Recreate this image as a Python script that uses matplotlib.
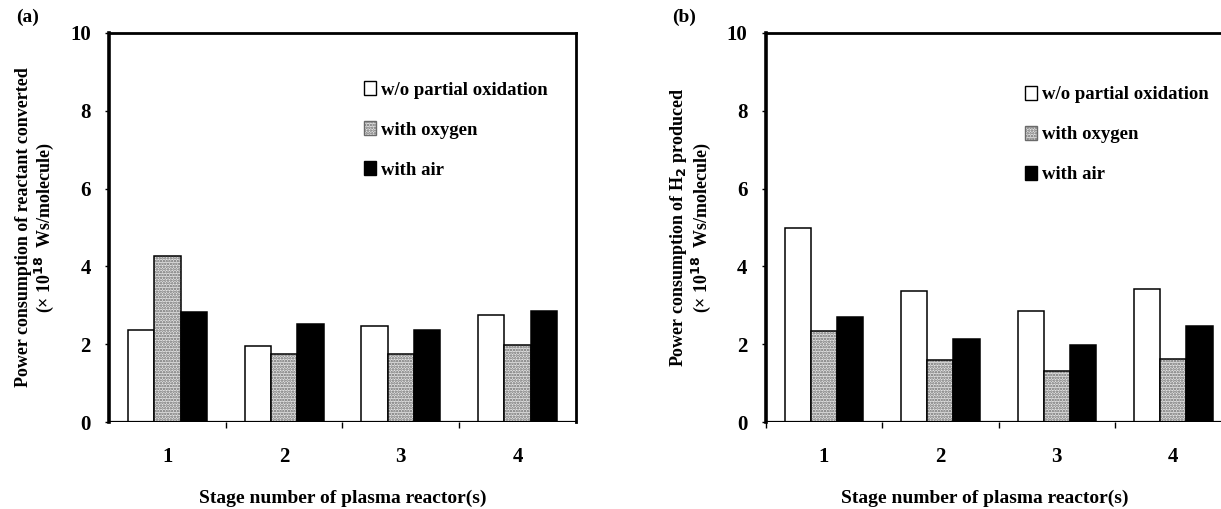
import numpy as np
import matplotlib
matplotlib.use("Agg")
import matplotlib.pyplot as plt
from matplotlib.patches import Patch

plt.rcParams.update({
    "font.family": ["Liberation Serif", "DejaVu Serif"],
    "font.weight": "bold",
    "axes.labelweight": "bold",
    "mathtext.default": "bf",
    "hatch.linewidth": 1.2,
})

stages = [1, 2, 3, 4]
series = ["w/o partial oxidation", "with oxygen", "with air"]

# (a) power consumption of reactant converted
conv_no_ox = [2.36, 1.96, 2.47, 2.74]
conv_oxygen = [4.26, 1.74, 1.76, 1.99]
conv_air = [2.83, 2.51, 2.36, 2.85]

# (b) power consumption of H2 produced
h2_no_ox = [4.98, 3.36, 2.85, 3.41]
h2_oxygen = [2.33, 1.60, 1.30, 1.63]
h2_air = [2.69, 2.13, 1.97, 2.46]

W = 0.225
HATCH_FACE = "#e4e4e4"
HATCH_COL = "#6a6a6a"


def draw_panel(ax, vals, ylabel, tag, legend_xy):
    x = np.array(stages, dtype=float)
    white, hatch, black = vals
    ax.bar(x - W, white, W, color="white", edgecolor="black", linewidth=1.1, zorder=2)
    ax.bar(x, hatch, W, color=HATCH_FACE, edgecolor=HATCH_COL, hatch="......",
           linewidth=0, zorder=2)
    ax.bar(x, hatch, W, color="none", edgecolor="black", linewidth=1.1, zorder=3)
    ax.bar(x + W, black, W, color="black", edgecolor="black", linewidth=1.1, zorder=2)
    ax.axhline(0, color="black", linewidth=1.6, zorder=4)

    ax.set_xlim(0.5, 4.5)
    ax.set_ylim(0, 10)
    ax.set_yticks([0, 2, 4, 6, 8, 10])
    ax.set_xticks(stages)
    ax.set_xticks([1.5, 2.5, 3.5], minor=True)
    ax.tick_params(axis="x", which="major", length=0, pad=18, labelsize=15)
    ax.tick_params(axis="x", which="minor", length=4, width=1, direction="out")
    ax.tick_params(axis="y", length=3, width=1, direction="out", pad=10, labelsize=15)
    ax.spines["left"].set_linewidth(2.6)
    for s in ["top", "right"]:
        ax.spines[s].set_linewidth(2.0)
    ax.spines["bottom"].set_visible(False)

    ax.set_ylabel(ylabel, fontsize=13, linespacing=1.05, labelpad=10)
    ax.set_xlabel("Stage number of plasma reactor(s)", fontsize=14, labelpad=16)
    ax.text(-0.2, 1.04, tag, transform=ax.transAxes, fontsize=14, ha="left",
            va="center", fontweight="bold")

    handles = [
        Patch(facecolor="white", edgecolor="black", linewidth=1.0),
        Patch(facecolor=HATCH_FACE, edgecolor=HATCH_COL, hatch="......", linewidth=1.0),
        Patch(facecolor="black", edgecolor="black", linewidth=1.0),
    ]
    ax.legend(handles, series, loc="upper left", bbox_to_anchor=legend_xy,
              frameon=False, handlelength=0.65, handleheight=0.75,
              handletextpad=0.25, labelspacing=1.2, borderaxespad=0,
              prop={"size": 13.5, "weight": "bold"})


fig = plt.figure(figsize=(12.21, 5.09), dpi=100)
ax1 = fig.add_axes([0.0893, 0.1709, 0.3824, 0.7643])
ax2 = fig.add_axes([0.627, 0.1709, 0.3817, 0.7643])

draw_panel(ax1, [conv_no_ox, conv_oxygen, conv_air],
           "Power consumption of reactant converted\n(\u00d7 10$^{18}$  Ws/molecule)",
           "(a)", (0.53, 0.895))
draw_panel(ax2, [h2_no_ox, h2_oxygen, h2_air],
           "Power consumption of H$_{2}$ produced\n(\u00d7 10$^{18}$  Ws/molecule)",
           "(b)", (0.54, 0.883))
ax2.xaxis.label.set_x(0.47)
ax2.set_xticks([0.5, 1.5, 2.5, 3.5], minor=True)

fig.savefig("out.png", dpi=100)
